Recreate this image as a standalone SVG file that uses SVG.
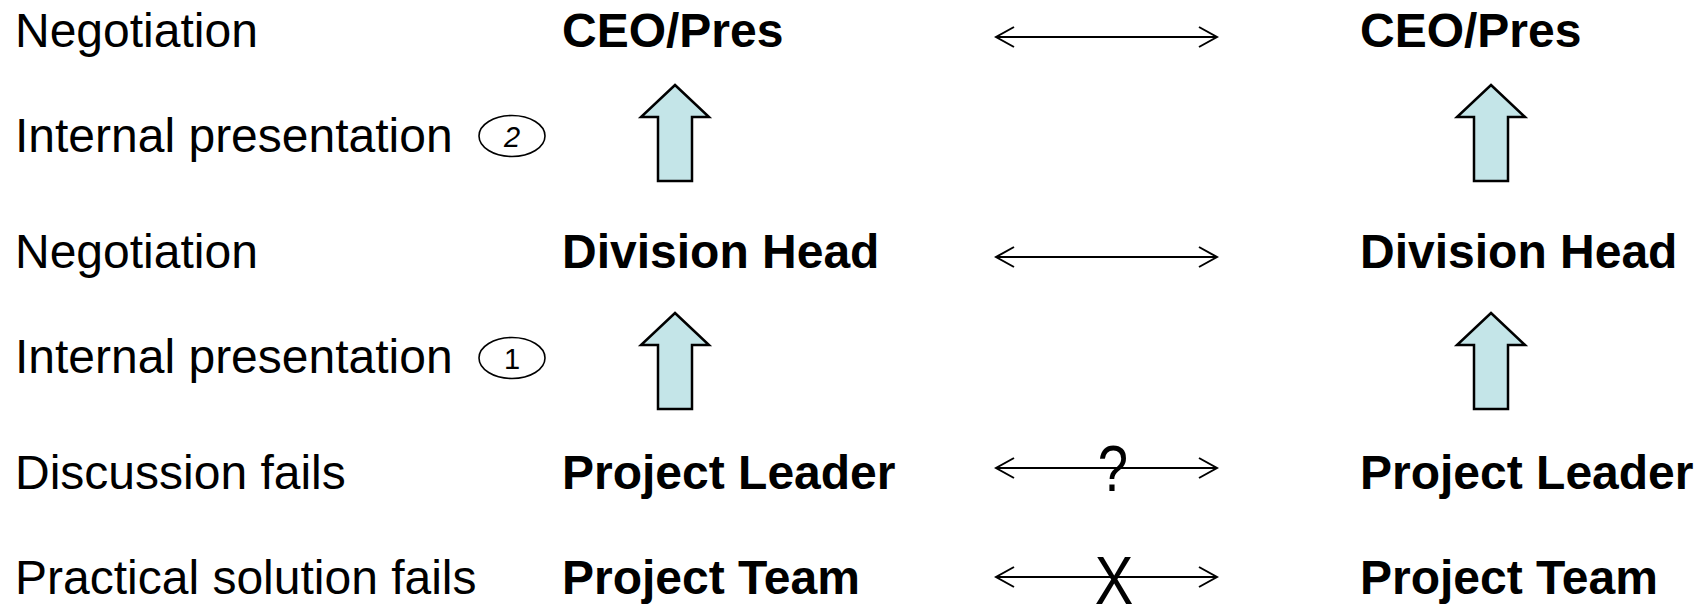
<svg xmlns="http://www.w3.org/2000/svg" xmlns:xlink="http://www.w3.org/1999/xlink" width="1706" height="607" viewBox="0 0 1706 607">
  <style>
    .lbl { font-family: "Liberation Sans", Arial, sans-serif; font-size: 48px; fill: #000; }
    .role { font-family: "Liberation Sans", Arial, sans-serif; font-size: 48px; font-weight: bold; fill: #000; }
    .num { font-family: "Liberation Sans", Arial, sans-serif; font-size: 29px; fill: #000; text-anchor: middle; }
    .badge { fill: #fff; stroke: #000; stroke-width: 1.6; }
    .link { stroke: #000; stroke-width: 2; fill: none; marker-start: url(#chev); marker-end: url(#chev); }
    .up { fill: #C4E5E8; stroke: #000; stroke-width: 2.5; stroke-linejoin: miter; }
    .mark { font-family: "Liberation Sans", Arial, sans-serif; fill: #000; text-anchor: middle; }
  </style>
  <defs>
    <marker id="chev" markerUnits="userSpaceOnUse" viewBox="-22 -12 24 24" refX="0" refY="0" markerWidth="24" markerHeight="24" orient="auto-start-reverse">
      <path d="M-18,-10 L0,0 L-18,10" fill="none" stroke="#000" stroke-width="2"/>
    </marker>
    <!-- block arrow pointing up, tip at origin -->
    <path id="uparrow" class="up" d="M0,0 L34,32 L17,32 L17,96 L-17,96 L-17,32 L-34,32 Z"/>
  </defs>

  <!-- step labels on the left -->
  <g id="steps">
    <text class="lbl" x="15" y="47">Negotiation</text>
    <text class="lbl" x="15" y="152">Internal presentation</text>
    <text class="lbl" x="15" y="268">Negotiation</text>
    <text class="lbl" x="15" y="373">Internal presentation</text>
    <text class="lbl" x="15" y="489">Discussion fails</text>
    <text class="lbl" x="15" y="594">Practical solution fails</text>
  </g>

  <g id="badge-2">
    <ellipse class="badge" cx="512" cy="136" rx="33" ry="20.5"/>
    <text class="num" x="512" y="146.5" font-style="italic">2</text>
  </g>
  <g id="badge-1">
    <ellipse class="badge" cx="512" cy="358" rx="33" ry="20.5"/>
    <text class="num" x="512" y="368.5">1</text>
  </g>

  <!-- own side hierarchy -->
  <g id="ceo-left"><text class="role" x="562" y="47">CEO/Pres</text></g>
  <g id="division-left"><text class="role" x="562" y="268">Division Head</text></g>
  <g id="leader-left"><text class="role" x="562" y="489">Project Leader</text></g>
  <g id="team-left"><text class="role" x="562" y="594">Project Team</text></g>

  <!-- other side hierarchy -->
  <g id="ceo-right"><text class="role" x="1360" y="47">CEO/Pres</text></g>
  <g id="division-right"><text class="role" x="1360" y="268">Division Head</text></g>
  <g id="leader-right"><text class="role" x="1360" y="489">Project Leader</text></g>
  <g id="team-right"><text class="role" x="1360" y="594">Project Team</text></g>

  <!-- escalation arrows -->
  <g id="escalations">
    <use xlink:href="#uparrow" x="675" y="85"/>
    <use xlink:href="#uparrow" x="675" y="313"/>
    <use xlink:href="#uparrow" x="1491" y="85"/>
    <use xlink:href="#uparrow" x="1491" y="313"/>
  </g>

  <!-- cross-party links -->
  <g id="connectors">
    <line class="link" x1="996" y1="37" x2="1217" y2="37"/>
    <line class="link" x1="996" y1="257" x2="1217" y2="257"/>
    <line class="link" x1="996" y1="468" x2="1217" y2="468"/>
    <line class="link" x1="996" y1="577" x2="1217" y2="577"/>
    <text class="mark" font-size="64" x="1113" y="491" transform="translate(1113 0) scale(0.85 1) translate(-1113 0)">?</text>
    <text class="mark" font-size="68" x="1114" y="604" transform="translate(1114 0) scale(0.85 1) translate(-1114 0)">X</text>
  </g>
</svg>
